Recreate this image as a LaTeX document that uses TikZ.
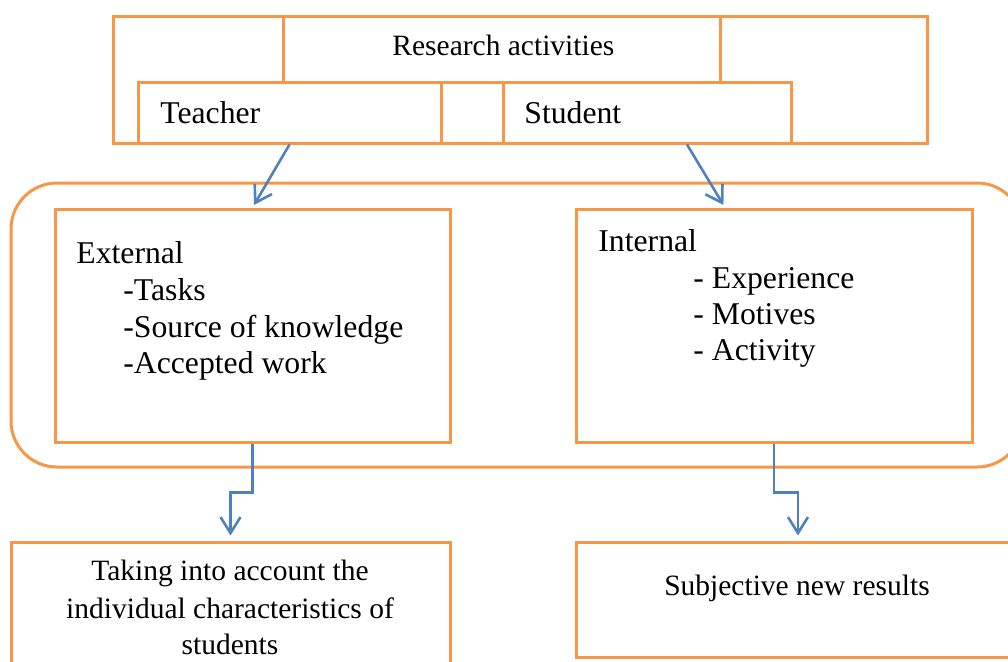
\documentclass[tikz,border=0pt]{standalone}
\usepackage{fontspec}
\setmainfont{Liberation Serif}
\usetikzlibrary{arrows.meta,fit,calc}
\definecolor{orng}{HTML}{F79646}
\definecolor{blu}{HTML}{4F81BD}
\begin{document}
\begin{tikzpicture}[x=0.5pt,y=-0.5pt,
  box/.style={draw=orng,line width=1.5pt,inner sep=0pt,fit={#1}},
  txt/.style={inner sep=0pt,font=\fontsize{14.75}{18}\selectfont},
  bigtxt/.style={inner sep=0pt,font=\fontsize{15.85}{19}\selectfont},
  arr/.style={draw=blu,line width=1.3pt,-{Straight Barb[length=8pt,width=10pt]}}]
\path[use as bounding box] (0,0) rectangle (1008,661);
\clip (0,0) rectangle (1008,661);
% top group
\node[box={(113,16)(927,143)}] (outer) {};
\node[box={(283,16)(720,82.5)}] (resbox) {};
\node[box={(138,82.5)(441,143)}] (teacher) {};
\node[box={(503,82.5)(791,143)}] (student) {};
\node[txt,anchor=base west] (restxt) at (392,55) {Research activities};
\node[bigtxt,anchor=base west] (teachertxt) at (160,123) {Teacher};
\node[bigtxt,anchor=base west] (studenttxt) at (524,123) {Student};
% middle group
\node[box={(11,183)(1023,467)},rounded corners=23pt] (frame) {};
\node[box={(55,209)(450,442)}] (external) {};
\node[box={(576,209)(972,442)}] (internal) {};
\node[bigtxt,anchor=base west] (ext0) at (76,263) {External};
\node[bigtxt,anchor=base west] (ext1) at (123,300) {-Tasks};
\node[bigtxt,anchor=base west] (ext2) at (123,337) {-Source of knowledge};
\node[bigtxt,anchor=base west] (ext3) at (123,373) {-Accepted work};
\node[bigtxt,anchor=base west] (int0) at (598,251) {Internal};
\node[bigtxt,anchor=base west] (int1) at (693,288) {- Experience};
\node[bigtxt,anchor=base west] (int2) at (693,324) {- Motives};
\node[bigtxt,anchor=base west] (int3) at (693,360) {- Activity};
% bottom group
\node[box={(11,542)(450,700)}] (bl) {};
\node[box={(576,542)(1020,657)}] (br) {};
\node[txt,anchor=base] (bl1) at (230,580) {Taking into account the};
\node[txt,anchor=base] (bl2) at (230,618) {individual characteristics of};
\node[txt,anchor=base] (bl3) at (230,654) {students};
\node[txt,anchor=base] (brt) at (797,595) {Subjective new results};
% connectors
\draw[arr,shorten >=1.5pt] (teacher.south) -- (external.north);
\draw[arr,shorten >=1.5pt] ($(student.south)+(40,0)$) -- ($(internal.north)+(-49,0)$);
\draw[arr,shorten >=2.5pt] (external.south) -- ++(0,49) -| (bl.north);
\draw[arr,shorten >=2.5pt] (internal.south) -- ++(0,49) -| (br.north);
\end{tikzpicture}
\end{document}
